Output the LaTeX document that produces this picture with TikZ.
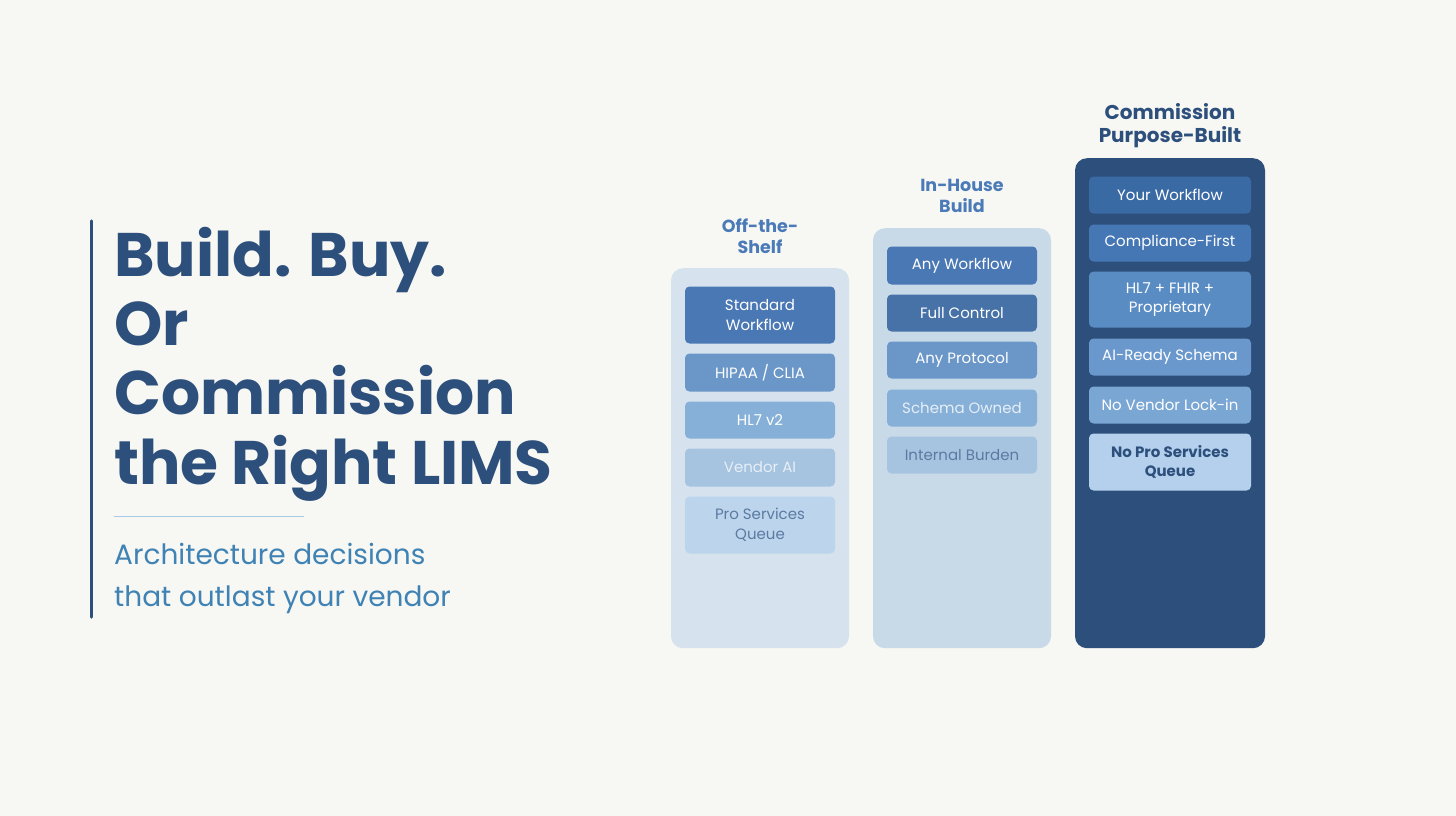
\documentclass[tikz,border=0pt]{standalone}
\usepackage{fontspec}
\setmainfont{Poppins}
\definecolor{bg}{HTML}{F7F7F3}
\definecolor{navy}{HTML}{2D4F7C}
\definecolor{sub}{HTML}{3F82B4}
\definecolor{sep}{HTML}{A9CBE8}
\definecolor{lbl}{HTML}{4A7AB8}
\definecolor{colA}{HTML}{D6E3EF}
\definecolor{colB}{HTML}{C8D9E8}
\definecolor{a1}{HTML}{4A78B4}
\definecolor{a2}{HTML}{6A96C8}
\definecolor{a3}{HTML}{86B0D8}
\definecolor{a4}{HTML}{A6C4E0}
\definecolor{a5}{HTML}{BCD4EC}
\definecolor{b2}{HTML}{4672A8}
\definecolor{c1}{HTML}{3A6AA4}
\definecolor{c2}{HTML}{4677B5}
\definecolor{c3}{HTML}{5A8CC4}
\definecolor{c4}{HTML}{6A98CC}
\definecolor{c5}{HTML}{7AA6D4}
\definecolor{c6}{HTML}{B4D0EC}
\definecolor{fadetxt}{HTML}{E6EEF7}
\definecolor{dimtxt}{HTML}{5B7AA2}
\begin{document}
\begin{tikzpicture}[x=1pt,y=-1pt,
  column/.style={draw=none,rounded corners=12pt,minimum width=178pt,anchor=north,inner sep=0pt},
  item/.style={draw=none,rounded corners=4.5pt,minimum width=150pt,text=white,align=center,inner sep=0pt,
    font=\fontsize{15}{19.5}\selectfont},
  wide/.style={minimum width=162pt},
  title/.style={anchor=base west,inner sep=0pt,text=navy,font=\bfseries\fontsize{61.5}{69}\selectfont},
  subt/.style={anchor=base west,inner sep=0pt,text=sub,font=\fontsize{28}{42}\selectfont},
  head/.style={anchor=base,inner sep=0pt,text=lbl,font=\bfseries\fontsize{17.5}{21}\selectfont},
  bighead/.style={anchor=base,inner sep=0pt,text=navy,font=\bfseries\fontsize{20}{24}\selectfont}]
\fill[bg] (0,0) rectangle (1456,816);
\useasboundingbox (0,0) rectangle (1456,816);

% left title block
\coordinate (bartop) at (91.5,221);
\coordinate (barbot) at (91.5,617);
\draw[navy,line width=3.5pt,line cap=round] (bartop) -- (barbot);
\node[title] (t1) at (114,276) {Build. Buy.};
\node[title] (t2) at (114,345) {Or};
\node[title] (t3) at (114,414) {Commission};
\node[title] (t4) at (114,484) {the Right LIMS};
\coordinate (sepL) at (114,516);
\coordinate (sepR) at (304,516);
\draw[sep,line width=0.9pt] (sepL) -- (sepR);
\node[subt] (s1) at (114,564) {Architecture decisions};
\node[subt] (s2) at (114,606) {that outlast your vendor};

% column 1
\node[head] (h1a) at (760,232) {Off-the-};
\node[head] (h1b) at (760,253) {Shelf};
\node[column,fill=colA,minimum height=380pt] (col1) at (760,268) {};
\node[item,fill=a1,minimum height=57pt] (i11) at (760,315) {Standard\\Workflow};
\node[item,fill=a2,minimum height=38pt] (i12) at (760,372.5) {HIPAA / CLIA};
\node[item,fill=a3,minimum height=37pt] (i13) at (760,420) {HL7 v2};
\node[item,fill=a4,minimum height=38pt,text=fadetxt] (i14) at (760,467.5) {Vendor AI};
\node[item,fill=a5,minimum height=57pt,text=dimtxt] (i15) at (760,525) {Pro Services\\Queue};

% column 2
\node[head] (h2a) at (962,191.5) {In-House};
\node[head] (h2b) at (962,212.5) {Build};
\node[column,fill=colB,minimum height=420pt] (col2) at (962,228) {};
\node[item,fill=a1,minimum height=38pt] (i21) at (962,265.5) {Any Workflow};
\node[item,fill=b2,minimum height=37pt] (i22) at (962,313) {Full Control};
\node[item,fill=a2,minimum height=37pt] (i23) at (962,360) {Any Protocol};
\node[item,fill=a3,minimum height=37pt,text=fadetxt] (i24) at (962,408) {Schema Owned};
\node[item,fill=a4,minimum height=37pt,text=dimtxt] (i25) at (962,455) {Internal Burden};

% column 3
\node[bighead] (h3a) at (1170,119) {Commission};
\node[bighead] (h3b) at (1170,142.5) {Purpose-Built};
\node[column,fill=navy,minimum width=190pt,minimum height=490pt] (col3) at (1170,158) {};
\node[item,wide,fill=c1,minimum height=37pt] (i31) at (1170,195) {Your Workflow};
\node[item,wide,fill=c2,minimum height=37pt] (i32) at (1170,243) {Compliance-First};
\node[item,wide,fill=c3,minimum height=56pt] (i33) at (1170,299.5) {HL7 + FHIR +\\Proprietary};
\node[item,wide,fill=c4,minimum height=37pt] (i34) at (1170,357) {AI-Ready Schema};
\node[item,wide,fill=c5,minimum height=37pt] (i35) at (1170,405) {No Vendor Lock-in};
\node[item,wide,fill=c6,minimum height=57pt,text=navy,font=\bfseries\fontsize{15}{19.5}\selectfont] (i36) at (1170,462) {No Pro Services\\Queue};
\end{tikzpicture}
\end{document}
